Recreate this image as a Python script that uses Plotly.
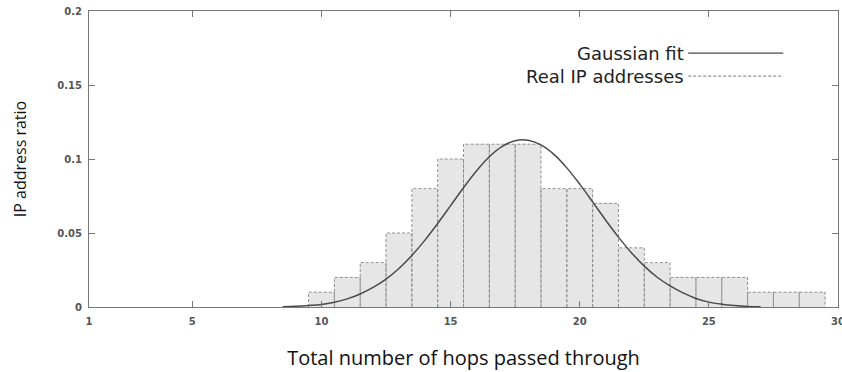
import plotly.graph_objects as go

# ---- data ----
hops = [10, 11, 12, 13, 14, 15, 16, 17, 18, 19, 20, 21, 22, 23, 24, 25, 26, 27, 28, 29]
ratio = [0.01, 0.02, 0.03, 0.05, 0.08, 0.10, 0.11, 0.11, 0.11, 0.08, 0.08, 0.07,
         0.04, 0.03, 0.02, 0.02, 0.02, 0.01, 0.01, 0.01]

fit_x = [8.5, 9.0, 9.5, 10.0, 10.5, 11.0, 11.5, 12.0, 12.5, 13.0, 13.5, 14.0, 14.5,
         15.0, 15.5, 16.0, 16.5, 17.0, 17.5, 18.0, 18.5, 19.0, 19.5, 20.0, 20.5,
         21.0, 21.5, 22.0, 22.5, 23.0, 23.5, 24.0, 24.5, 25.0, 25.5, 26.0, 26.5, 27.0]
fit_y = [0.0002, 0.0005, 0.001, 0.0017, 0.0032, 0.0055, 0.0088, 0.0132, 0.0188,
         0.026, 0.0348, 0.045, 0.0564, 0.0685, 0.0806, 0.0919, 0.1015, 0.1085,
         0.1124, 0.1127, 0.1095, 0.1031, 0.094, 0.083, 0.071, 0.0588, 0.0472,
         0.0367, 0.0276, 0.0201, 0.0142, 0.0095, 0.0058, 0.0033, 0.0019, 0.001,
         0.0004, 0.0001]

x_ticks = [1, 5, 10, 15, 20, 25, 30]
y_ticks = [0, 0.05, 0.1, 0.15, 0.2]
y_tick_text = ["0", "0.05", "0.1", "0.15", "0.2"]

legend_labels = ["Gaussian fit", "Real IP addresses"]
x_title = "Total number of hops passed through"
y_title = "IP address ratio"

# dashed outline path built from the bar data
ox, oy = [], []
for h, r in zip(hops, ratio):
    ox += [h - 0.5, h - 0.5, h + 0.5, h + 0.5, None]
    oy += [0, r, r, 0, None]

fig = go.Figure()
fig.add_trace(go.Bar(x=hops, y=ratio, width=1, marker=dict(color="#e6e6e6", line=dict(width=0)),
                     name=legend_labels[1], showlegend=False, hoverinfo="skip"))
fig.add_trace(go.Scatter(x=ox, y=oy, mode="lines", line=dict(color="#909090", width=1, dash="3px,2px"),
                         showlegend=False, hoverinfo="skip"))
fig.add_trace(go.Scatter(x=fit_x, y=fit_y, mode="lines", line=dict(color="#4a4a4a", width=1.5, shape="spline"),
                         name=legend_labels[0], showlegend=False))

tickfont = dict(family="DejaVu Sans", size=10, color="#555555", weight="bold")
fig.update_layout(
    width=842, height=372,
    margin=dict(l=89, r=4, t=11, b=65, autoexpand=False),
    paper_bgcolor="white", plot_bgcolor="white",
    bargap=0,
    xaxis=dict(range=[0.9999, 30.0001], tickvals=x_ticks, ticks="inside", ticklen=6, tickcolor="#777",
               showline=True, linecolor="#777", linewidth=1, mirror="ticks", showgrid=False,
               zeroline=False, tickfont=tickfont, ticklabelstandoff=5, ticklabeloverflow="allow",
               automargin=False,
               title=dict(text=x_title, font=dict(family="Open Sans", size=20, color="#111"), standoff=24)),
    yaxis=dict(range=[0, 0.2], tickvals=y_ticks, ticktext=y_tick_text, ticks="inside", ticklen=6,
               tickcolor="#777", showline=True, linecolor="#777", linewidth=1, mirror="ticks",
               showgrid=False, zeroline=False, tickfont=tickfont, ticklabelstandoff=4,
               title=dict(text=y_title, font=dict(family="Open Sans", size=16, color="#111"), standoff=26)),
)

# legend drawn gnuplot-style: text right-aligned, sample line to its right
leg_y = [0.858, 0.78]
dashes = ["solid", "3px,2px"]
colors = ["#4a4a4a", "#909090"]
for lab, yy, dsh, col in zip(legend_labels, leg_y, dashes, colors):
    fig.add_annotation(x=0.797, y=yy, xref="paper", yref="paper", text=lab, showarrow=False,
                       xanchor="right", yanchor="middle",
                       font=dict(family="DejaVu Sans", size=18, color="#222"))
    fig.add_shape(type="line", xref="paper", yref="paper", x0=0.800, x1=0.927, y0=yy, y1=yy,
                  line=dict(color=col, width=1.2, dash=dsh))

fig.write_html("out.html")
